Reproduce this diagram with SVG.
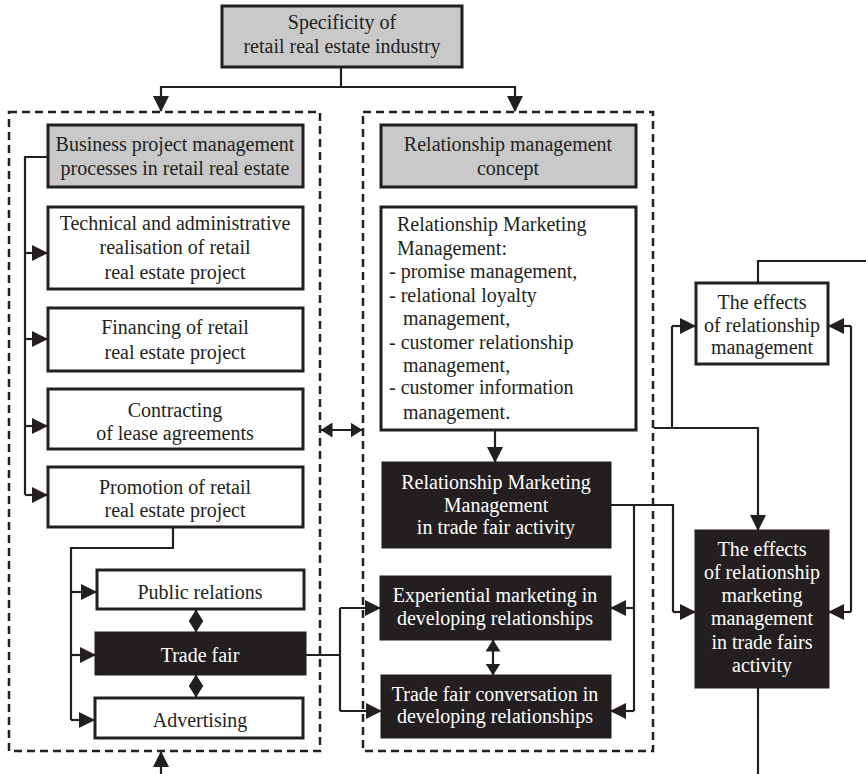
<svg xmlns="http://www.w3.org/2000/svg" width="866" height="774" viewBox="0 0 866 774">
<defs>
<marker id="ah" viewBox="0 0 16 16" refX="15" refY="8" markerWidth="16" markerHeight="16" markerUnits="userSpaceOnUse" orient="auto-start-reverse">
<path d="M0,0 L16,8 L0,16 z" fill="#231f20"/>
</marker>
<marker id="ahs" viewBox="0 0 12 15" refX="11.5" refY="7.5" markerWidth="12" markerHeight="15" markerUnits="userSpaceOnUse" orient="auto-start-reverse">
<path d="M0,0 L12,7.5 L0,15 z" fill="#231f20"/>
</marker>
<style>
.box{stroke:#231f20;stroke-width:3;fill:#fff}
.gray{fill:#c9c9c9}
.dark{fill:#231f20;stroke:#231f20}
.dash{fill:none;stroke:#231f20;stroke-width:2.5;stroke-dasharray:8,5}
.ln{fill:none;stroke:#231f20;stroke-width:2.2}
.ar{marker-end:url(#ah)}
.da{marker-start:url(#ahs);marker-end:url(#ahs)}
text{font-family:"Liberation Serif","Times New Roman",serif;font-size:20px;fill:#231f20;text-anchor:middle}
.w{fill:#fff}
.l{text-anchor:start}
</style>
</defs>
<rect width="866" height="774" fill="#fff"/>
<g id="group-left"><rect class="dash" x="9" y="112" width="311" height="639"/></g>
<g id="group-right"><rect class="dash" x="363" y="112" width="290" height="639"/></g>
<g id="connectors">
<path class="ln ar" d="M341,68 V87 H161 V111"/>
<path class="ln ar" d="M341,87 H515 V111"/>
<path class="ln" d="M48,157 H25 V495"/>
<path class="ln ar" d="M25,253 H47"/>
<path class="ln ar" d="M25,339 H47"/>
<path class="ln ar" d="M25,426 H47"/>
<path class="ln ar" d="M25,495 H47"/>
<path class="ln" d="M173,527 V548 H71 V720"/>
<path class="ln ar" d="M71,592 H96"/>
<path class="ln ar" d="M71,655 H95"/>
<path class="ln ar" d="M71,720 H94"/>
<path class="ln da" d="M196,610 V632"/>
<path class="ln da" d="M196,675 V697"/>
<path class="ln da" d="M321,430 H362"/>
<path class="ln ar" d="M161,774 V752"/>
<path class="ln" d="M305,655 H340"/>
<path class="ln" d="M340,608 V711"/>
<path class="ln ar" d="M340,608 H380"/>
<path class="ln ar" d="M340,711 H381"/>
<path class="ln ar" d="M495,430 V462"/>
<path class="ln da" d="M493,640 V675"/>
<path class="ln" d="M610,505 H673 V612"/>
<path class="ln ar" d="M673,612 H695"/>
<path class="ln" d="M634,505 V711"/>
<path class="ln ar" d="M634,608 H611"/>
<path class="ln ar" d="M634,711 H611"/>
<path class="ln ar" d="M654,428 H758 V530"/>
<path class="ln" d="M672,428 V326"/>
<path class="ln ar" d="M672,326 H695"/>
<path class="ln" d="M758,283 V261 H866"/>
<path class="ln" d="M851,612 V326"/>
<path class="ln ar" d="M851,326 H829"/>
<path class="ln ar" d="M851,612 H829"/>
<path class="ln" d="M758,687 V774"/>
</g>
<g id="specificity"><rect class="box gray" x="222" y="6" width="240" height="61"/><text x="342" y="29">Specificity of</text><text x="342" y="53">retail real estate industry</text></g>
<g id="business"><rect class="box gray" x="48" y="125" width="255" height="62"/><text x="175" y="151">Business project management</text><text x="175" y="175">processes in retail real estate</text></g>
<g id="technical"><rect class="box" x="48" y="207" width="255" height="82"/><text x="175" y="230">Technical and administrative</text><text x="175" y="254">realisation of retail</text><text x="175" y="279">real estate project</text></g>
<g id="financing"><rect class="box" x="48" y="308" width="255" height="63"/><text x="175" y="334">Financing of retail</text><text x="175" y="359">real estate project</text></g>
<g id="contracting"><rect class="box" x="48" y="389" width="255" height="60"/><text x="175" y="417">Contracting</text><text x="175" y="440">of lease agreements</text></g>
<g id="promotion"><rect class="box" x="48" y="467" width="255" height="60"/><text x="175" y="494">Promotion of retail</text><text x="175" y="517">real estate project</text></g>
<g id="public-relations"><rect class="box" x="97" y="570" width="207" height="39"/><text x="200" y="599">Public relations</text></g>
<g id="trade-fair"><rect class="box dark" x="96" y="633" width="209" height="41"/><text class="w" x="200" y="662">Trade fair</text></g>
<g id="advertising"><rect class="box" x="95" y="698" width="208" height="40"/><text x="200" y="727">Advertising</text></g>
<g id="rm-concept"><rect class="box gray" x="381" y="125" width="255" height="62"/><text x="508" y="151">Relationship management</text><text x="508" y="175">concept</text></g>
<g id="rmm"><rect class="box" x="381" y="207" width="255" height="223"/>
<text class="l" x="397" y="231">Relationship Marketing</text>
<text class="l" x="397" y="255">Management:</text>
<text class="l" x="389" y="278">- promise management,</text>
<text class="l" x="389" y="302">- relational loyalty</text>
<text class="l" x="403" y="325">management,</text>
<text class="l" x="389" y="349">- customer relationship</text>
<text class="l" x="403" y="372">management,</text>
<text class="l" x="389" y="394">- customer information</text>
<text class="l" x="403" y="419">management.</text></g>
<g id="rmm-tradefair"><rect class="box dark" x="383" y="463" width="227" height="84"/><text class="w" x="496" y="489">Relationship Marketing</text><text class="w" x="496" y="512">Management</text><text class="w" x="496" y="534">in trade fair activity</text></g>
<g id="experiential"><rect class="box dark" x="381" y="577" width="229" height="62"/><text class="w" x="495" y="602">Experiential marketing in</text><text class="w" x="495" y="625">developing relationships</text></g>
<g id="conversation"><rect class="box dark" x="382" y="676" width="228" height="61"/><text class="w" x="495" y="701">Trade fair conversation in</text><text class="w" x="495" y="723">developing relationships</text></g>
<g id="effects-rm"><rect class="box" x="696" y="283" width="132" height="81"/><text x="762" y="309">The effects</text><text x="762" y="332">of relationship</text><text x="762" y="354">management</text></g>
<g id="effects-rmm"><rect class="box dark" x="696" y="531" width="132" height="156"/><text class="w" x="762" y="556">The effects</text><text class="w" x="762" y="579">of relationship</text><text class="w" x="762" y="602">marketing</text><text class="w" x="762" y="625">management</text><text class="w" x="762" y="649">in trade fairs</text><text class="w" x="762" y="672">activity</text></g>
</svg>
